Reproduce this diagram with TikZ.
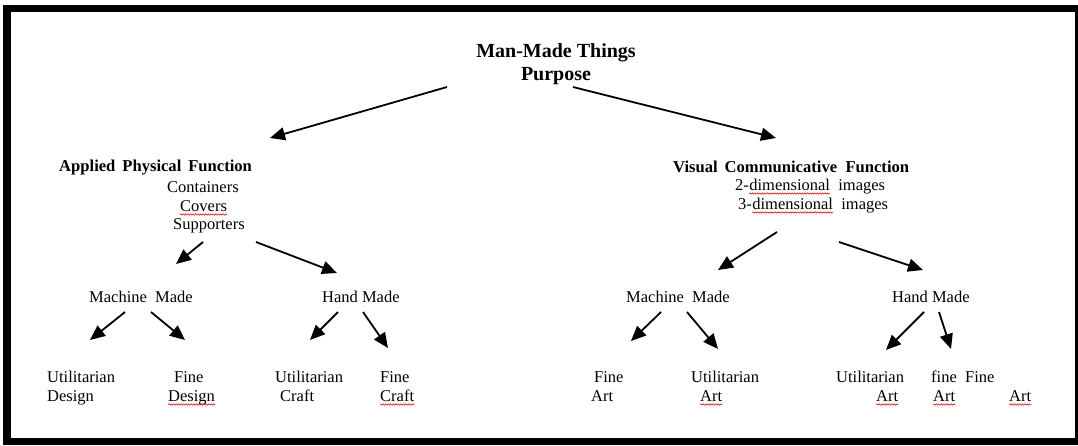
\documentclass[tikz,border=0pt]{standalone}
\usepackage{fontspec}
\setmainfont{Liberation Serif}
\usetikzlibrary{arrows.meta,decorations.pathmorphing}
\begin{document}
\begin{tikzpicture}[x=1pt,y=-1pt,
 txt/.style={inner sep=0pt,anchor=base west,font=\fontsize{16.5}{19}\selectfont},
 hd/.style={inner sep=0pt,anchor=base west,font=\fontsize{16.6}{20}\selectfont\bfseries},
 ttl/.style={inner sep=0pt,anchor=base,font=\fontsize{20}{22}\selectfont\bfseries},
 arr/.style={line width=1.8pt,-{Triangle[length=15pt,width=13pt]}},
 squig/.style={red!85!black,line width=0.5pt,decorate,decoration={snake,amplitude=0.7pt,segment length=2.5pt}}]
% frame
\useasboundingbox (0,0) rectangle (1078,445);
\fill[white] (0,0) rectangle (1078,445);
\fill[black] (3,5) rectangle (1078,445);
\fill[white] (11,12) rectangle (1075,438);
% title
\node[ttl] (t1) at (556,57) {Man-Made Things};
\node[ttl] (t2) at (556,80) {Purpose};
% level 1
\node[hd] (apf) at (59,171) {Applied\ \,Physical\ \,Function};
\node[txt] (cont) at (167,192) {Containers};
\node[txt] (cov) at (180,211) {Covers};
\node[txt] (sup) at (173,229) {Supporters};
\node[hd] (vcf) at (673,172) {Visual\ \,Communicative\ \ Function};
\node[txt] (d2a) at (735,190) {2-};
\node[txt,anchor=base west] (d2b) at (d2a.base east) {dimensional};
\node[txt,anchor=base west,xshift=8pt] (d2c) at (d2b.base east) {images};
\node[txt] (d3a) at (738,209) {3-};
\node[txt,anchor=base west] (d3b) at (d3a.base east) {dimensional};
\node[txt,anchor=base west,xshift=8pt] (d3c) at (d3b.base east) {images};
% level 2
\node[txt] (mm1) at (89,302) {Machine\ \ Made};
\node[txt] (hm1) at (322,302) {Hand Made};
\node[txt] (mm2) at (626,302) {Machine\ \ Made};
\node[txt] (hm2) at (892,302) {Hand Made};
% level 3
\node[txt] (ud1) at (47,382) {Utilitarian};
\node[txt] (ud2) at (47,401) {Design};
\node[txt] (fd1) at (174,382) {Fine};
\node[txt] (fd2) at (168,401) {Design};
\node[txt] (uc1) at (275,382) {Utilitarian};
\node[txt] (uc2) at (280,401) {Craft};
\node[txt] (fc1) at (380,382) {Fine};
\node[txt] (fc2) at (380,401) {Craft};
\node[txt] (fa1) at (594,382) {Fine};
\node[txt] (fa2) at (591,401) {Art};
\node[txt] (ua1) at (691,382) {Utilitarian};
\node[txt] (ua2) at (700,401) {Art};
\node[txt] (uh1) at (836,382) {Utilitarian};
\node[txt] (uh2) at (876,401) {Art};
\node[txt] (ff1) at (931,382) {fine\ \ Fine};
\node[txt] (ff2) at (933,401) {Art};
\node[txt] (la) at (1009,401) {Art};
% squiggles
\foreach \n in {cov,d2b,d3b,fd2,fc2,ua2,uh2,ff2,la}{
  \draw[squig] ([yshift=-3.5pt]\n.base west) -- ([yshift=-3.5pt]\n.base east);
}
% arrow endpoints
\coordinate (a1s) at (447,87); \coordinate (a1e) at (270,138);
\coordinate (a2s) at (573,87); \coordinate (a2e) at (776,138);
\coordinate (b1s) at (203,242); \coordinate (b1e) at (176,264);
\coordinate (b2s) at (256,242); \coordinate (b2e) at (337,273);
\coordinate (b3s) at (777,232); \coordinate (b3e) at (718,270);
\coordinate (b4s) at (839,242); \coordinate (b4e) at (923,270);
\coordinate (c1s) at (125,312); \coordinate (c1e) at (90,340);
\coordinate (c2s) at (151,312); \coordinate (c2e) at (185,340);
\coordinate (c3s) at (338,312); \coordinate (c3e) at (310,340);
\coordinate (c4s) at (363,312); \coordinate (c4e) at (388,348);
\coordinate (c5s) at (661,312); \coordinate (c5e) at (631,341);
\coordinate (c6s) at (687,312); \coordinate (c6e) at (718,349);
\coordinate (c7s) at (924,312); \coordinate (c7e) at (886,350);
\coordinate (c8s) at (939,312); \coordinate (c8e) at (951,349);
\foreach \a in {a1,a2,b1,b2,b3,b4,c1,c2,c3,c4,c5,c6,c7,c8}{
  \draw[arr] (\a s) -- (\a e);
}
\end{tikzpicture}
\end{document}
